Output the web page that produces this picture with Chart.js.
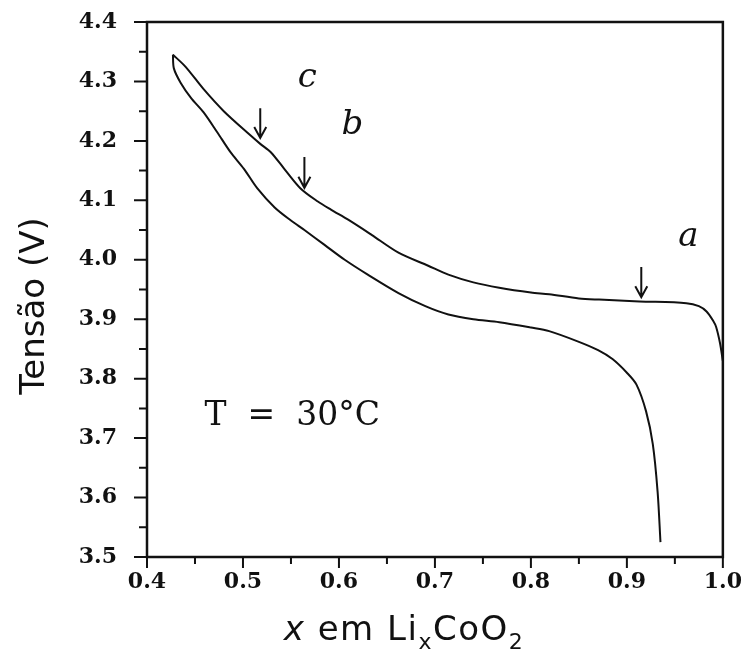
<!DOCTYPE html>
<html lang="pt">
<head>
<meta charset="utf-8">
<title>Tensão vs x em LixCoO2</title>
<script src="https://cdn.jsdelivr.net/npm/chart.js@4/dist/chart.umd.min.js"></script>
<style>
  html, body { margin: 0; padding: 0; background: #fff; }
  #wrap { position: relative; width: 745px; height: 657px; }
</style>
</head>
<body>
<div id="wrap"><canvas id="chart"></canvas></div>
<script>
const chargeX = [0.427, 0.44, 0.459, 0.48, 0.508, 0.518, 0.529, 0.543, 0.56, 0.578, 0.592, 0.61, 0.634,
  0.662, 0.693, 0.714, 0.74, 0.767, 0.80, 0.819, 0.85, 0.871, 0.913, 0.962, 0.975, 0.983, 0.99, 0.993, 0.997, 1.0];
const chargeV = [4.345, 4.325, 4.287, 4.25, 4.209, 4.195, 4.181, 4.153, 4.12, 4.098, 4.084, 4.067, 4.042,
  4.012, 3.99, 3.975, 3.962, 3.953, 3.945, 3.942, 3.935, 3.933, 3.93, 3.927, 3.922, 3.913, 3.897, 3.887, 3.86, 3.83];

// lower (discharge) branch
const dischargeX = [0.427, 0.428, 0.435, 0.446, 0.459, 0.473, 0.487, 0.501, 0.515, 0.533, 0.55, 0.564, 0.585,
  0.606, 0.63, 0.662, 0.69, 0.714, 0.74, 0.767, 0.80, 0.819, 0.85, 0.87, 0.885, 0.90, 0.91, 0.92, 0.927, 0.932, 0.935];
const dischargeV = [4.345, 4.322, 4.298, 4.272, 4.248, 4.215, 4.181, 4.153, 4.12, 4.088, 4.066, 4.05, 4.025,
  4.0, 3.975, 3.944, 3.922, 3.908, 3.9, 3.895, 3.886, 3.88, 3.862, 3.848, 3.833, 3.81, 3.79, 3.745, 3.69, 3.61, 3.525];

const xTickLabels = ['0.4', '0.5', '0.6', '0.7', '0.8', '0.9', '1.0'];
const yTickLabels = ['3.5', '3.6', '3.7', '3.8', '3.9', '4.0', '4.1', '4.2', '4.3', '4.4'];

// phase labels and arrows (data coordinates)
const phaseNames = ['c', 'b', 'a'];
const phaseX = [0.567, 0.614, 0.964];
const phaseY = [4.306, 4.227, 4.038];
const arrowX = [0.518, 0.564, 0.915];
const arrowTop = [4.255, 4.173, 3.988];
const arrowBottom = [4.205, 4.121, 3.937];

const tempText = 'T  =  30°C';
const tempX = 0.46;
const tempY = 3.736;

const yTitle = 'Tensão (V)';

const INK = '#111';
const TICK_FONT = { family: "'DejaVu Serif', serif", size: 22, weight: 'bold' };

function toPoints(xs, ys) {
  return xs.map((x, i) => ({ x, y: ys[i] }));
}

function isMajor(value) {
  return Math.abs(value * 10 - Math.round(value * 10)) < 1e-6;
}

function labelFor(value, labels) {
  if (!isMajor(value)) {
    return '';
  }
  const text = value.toFixed(1);
  return labels.includes(text) ? text : '';
}

// box round the plot and the outward ticks, long at 0.1 and short at 0.05
const frameAndTicks = {
  id: 'frameAndTicks',
  afterDraw(chart) {
    const { ctx, chartArea: area, scales } = chart;
    ctx.save();
    ctx.strokeStyle = INK;
    ctx.lineWidth = 2.5;
    ctx.strokeRect(area.left, area.top, area.right - area.left, area.bottom - area.top);

    ctx.lineWidth = 2;
    ctx.beginPath();
    scales.x.ticks.forEach((tick) => {
      const px = scales.x.getPixelForValue(tick.value);
      const len = isMajor(tick.value) ? 11 : 7;
      ctx.moveTo(px, area.bottom);
      ctx.lineTo(px, area.bottom + len);
    });
    scales.y.ticks.forEach((tick) => {
      const py = scales.y.getPixelForValue(tick.value);
      const len = isMajor(tick.value) ? 13 : 8;
      ctx.moveTo(area.left, py);
      ctx.lineTo(area.left - len, py);
    });
    ctx.stroke();
    ctx.restore();
  },
};

const annotations = {
  id: 'annotations',
  afterDatasetsDraw(chart) {
    const { ctx, scales } = chart;
    const x = scales.x;
    const y = scales.y;
    ctx.save();
    ctx.fillStyle = INK;
    ctx.strokeStyle = INK;
    ctx.lineWidth = 2;

    ctx.font = "italic 34px 'DejaVu Serif', serif";
    ctx.textAlign = 'center';
    ctx.textBaseline = 'middle';
    phaseNames.forEach((name, i) => {
      ctx.fillText(name, x.getPixelForValue(phaseX[i]), y.getPixelForValue(phaseY[i]));
    });

    arrowX.forEach((ax, i) => {
      const px = x.getPixelForValue(ax);
      const top = y.getPixelForValue(arrowTop[i]);
      const bottom = y.getPixelForValue(arrowBottom[i]);
      ctx.beginPath();
      ctx.moveTo(px, top);
      ctx.lineTo(px, bottom);
      ctx.moveTo(px - 6, bottom - 11);
      ctx.lineTo(px, bottom);
      ctx.lineTo(px + 6, bottom - 11);
      ctx.stroke();
    });

    ctx.font = "33px 'DejaVu Serif', serif";
    ctx.textAlign = 'left';
    ctx.fillText(tempText, x.getPixelForValue(tempX), y.getPixelForValue(tempY));

    // y-axis title, rotated
    ctx.save();
    ctx.translate(35, 306);
    ctx.rotate(-Math.PI / 2);
    ctx.textAlign = 'center';
    ctx.font = "34px 'DejaVu Sans', sans-serif";
    ctx.fillText(yTitle, 0, 0);
    ctx.restore();

    // x-axis title with italic x and subscripts
    const parts = [
      { text: 'x', font: "italic 34px 'DejaVu Sans', sans-serif", dy: 0 },
      { text: ' em Li', font: "34px 'DejaVu Sans', sans-serif", dy: 0 },
      { text: 'x', font: "22px 'DejaVu Sans', sans-serif", dy: 9 },
      { text: 'CoO', font: "34px 'DejaVu Sans', sans-serif", dy: 0 },
      { text: '2', font: "22px 'DejaVu Sans', sans-serif", dy: 9 },
    ];
    ctx.textBaseline = 'alphabetic';
    ctx.textAlign = 'left';
    ctx.letterSpacing = '1.5px';
    let width = 0;
    parts.forEach((p) => {
      ctx.font = p.font;
      p.w = ctx.measureText(p.text).width;
      width += p.w;
    });
    let cx = 404 - width / 2;
    const baseline = 640;
    parts.forEach((p) => {
      ctx.font = p.font;
      ctx.fillText(p.text, cx, baseline + p.dy);
      cx += p.w;
    });
    ctx.restore();
  },
};

const chart = new Chart(document.getElementById('chart'), {
  type: 'scatter',
  data: {
    datasets: [
      {
        label: 'carga',
        data: toPoints(chargeX, chargeV),
        showLine: true,
        borderColor: INK,
        borderWidth: 2,
        pointRadius: 0,
        tension: 0.3,
      },
      {
        label: 'descarga',
        data: toPoints(dischargeX, dischargeV),
        showLine: true,
        borderColor: INK,
        borderWidth: 2,
        pointRadius: 0,
        tension: 0.3,
      },
    ],
  },
  options: {
    responsive: true,
    maintainAspectRatio: false,
    animation: false,
    layout: { padding: { top: 22, right: 22, bottom: 0, left: 0 } },
    plugins: {
      legend: { display: false },
      tooltip: { enabled: false },
    },
    scales: {
      x: {
        type: 'linear',
        min: 0.4,
        max: 1.0,
        // tick marks come from the plugin; the hidden ones only push the labels out
        grid: { drawOnChartArea: false, tickLength: 9, tickColor: 'rgba(0,0,0,0)' },
        border: { display: false },
        ticks: {
          stepSize: 0.05,
          autoSkip: false,
          maxRotation: 0,
          padding: 3,
          color: INK,
          font: TICK_FONT,
          callback: (value) => labelFor(value, xTickLabels),
        },
        afterFit(scale) {
          scale.height = 100;
        },
      },
      y: {
        type: 'linear',
        min: 3.5,
        max: 4.4,
        grid: { drawOnChartArea: false, tickLength: 27, tickColor: 'rgba(0,0,0,0)' },
        border: { display: false },
        ticks: {
          stepSize: 0.05,
          autoSkip: false,
          padding: 3,
          color: INK,
          font: TICK_FONT,
          callback: (value) => labelFor(value, yTickLabels),
        },
        afterFit(scale) {
          scale.width = 147;
        },
      },
    },
  },
  plugins: [frameAndTicks, annotations],
});
</script>
</body>
</html>
